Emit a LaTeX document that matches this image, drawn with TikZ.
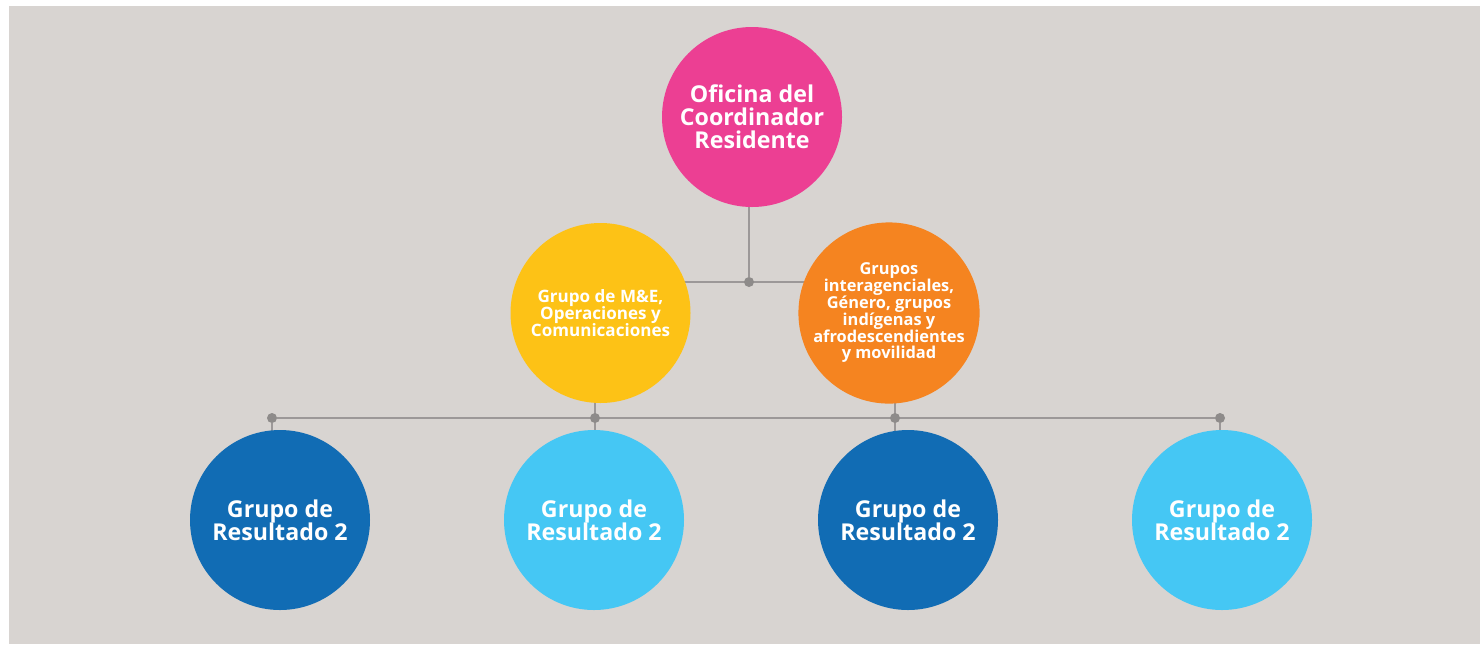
\documentclass[tikz,border=0pt]{standalone}
\usepackage{fontspec}
\setmainfont{Open Sans}[BoldFont={* Bold}]
\usetikzlibrary{backgrounds}

\definecolor{fondo}{HTML}{D8D4D1}
\definecolor{linea}{HTML}{9C9898}
\definecolor{punto}{HTML}{8E8B8A}
\definecolor{rosa}{HTML}{EC3F93}
\definecolor{amarillo}{HTML}{FDC216}
\definecolor{naranja}{HTML}{F58420}
\definecolor{azul}{HTML}{116CB4}
\definecolor{celeste}{HTML}{45C7F4}

\tikzset{
  circulo/.style={circle, minimum size=135pt, inner sep=0pt, text=white, align=center, font=\bfseries},
  grande/.style={circulo, font=\fontsize{17.4}{17.4}\selectfont\bfseries},
  mediano/.style={circulo, font=\fontsize{12.8}{12.8}\selectfont\bfseries},
  chico/.style={circulo, font=\fontsize{12.3}{12.6}\selectfont\bfseries},
  punto/.style={circle, fill=punto, minimum size=7.5pt, inner sep=0pt},
  conector/.style={draw=linea, line width=1.2pt}
}

\begin{document}
\begin{tikzpicture}[x=0.75pt,y=0.75pt,yscale=-1]
%fondo
\useasboundingbox (0,0) rectangle (1480,644);

%nivel superior
\node[grande, fill=rosa] (oficina) at (752,117) {Oficina del\\Coordinador\\Residente};
\node[punto] (dotcentro) at (749,282) {};

%nivel medio
\node[mediano, fill=amarillo] (grupoME) at (600.5,313) {Grupo de M\&E,\\Operaciones y\\Comunicaciones};
\node[chico, fill=naranja] (grupoIA) at (889,313) {Grupos\\interagenciales,\\Género, grupos\\indígenas y\\afrodescendientes\\y movilidad};

%puntos inferiores
\node[punto] (dotA) at (272,418) {};
\node[punto] (dotB) at (595,418) {};
\node[punto] (dotC) at (895,418) {};
\node[punto] (dotD) at (1220,418) {};

%grupos de resultado
\node[grande, fill=azul] (resA) at (280,520) {Grupo de\\Resultado 2};
\node[grande, fill=celeste] (resB) at (594,520) {Grupo de\\Resultado 2};
\node[grande, fill=azul] (resC) at (908,520) {Grupo de\\Resultado 2};
\node[grande, fill=celeste] (resD) at (1222,520) {Grupo de\\Resultado 2};

%conectores
\begin{pgfonlayer}{background}
\fill[fondo] (9,6) rectangle (1480,644);
\draw[conector] (dotcentro |- oficina) -- (dotcentro);
\draw[conector] (dotcentro -| grupoME) -- (dotcentro -| grupoIA);
\draw[conector] (dotA) -- (dotD);
\draw[conector] (dotA) -- (dotA |- resA);
\draw[conector] (dotB |- grupoME) -- (dotB |- resB);
\draw[conector] (dotC |- grupoIA) -- (dotC |- resC);
\draw[conector] (dotD) -- (dotD |- resD);
\end{pgfonlayer}
\end{tikzpicture}
\end{document}
